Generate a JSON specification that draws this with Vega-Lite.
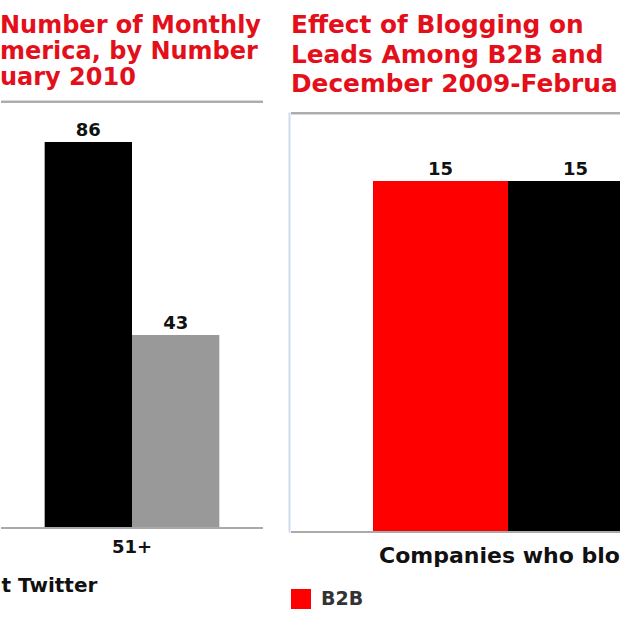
{
  "$schema": "https://vega.github.io/schema/vega-lite/v6.json",
  "background": "white",
  "padding": {"left": 0, "top": 13, "right": 0, "bottom": 0},
  "spacing": 25,
  "config": {"view": {"stroke": null}, "font": "DejaVu Sans"},
  "datasets": {
    "twitter": [
      {"followers": "51+", "series": "With Twitter", "leads": 86},
      {"followers": "51+", "series": "Without Twitter", "leads": 43}
    ],
    "blogging": [
      {"category": "Companies who blog", "segment": "B2B", "leads": 15},
      {"category": "Companies who blog", "segment": "B2C", "leads": 15}
    ]
  },
  "resolve": {
    "scale": {"color": "independent", "x": "independent", "y": "independent", "xOffset": "independent"},
    "legend": {"color": "independent"}
  },
  "hconcat": [
    {
      "width": 262,
      "height": 416,
      "title": {
        "text": ["Number of Monthly", "merica, by Number", "uary 2010"],
        "anchor": "start",
        "font": "DejaVu Sans",
        "fontWeight": "bold",
        "fontSize": 24,
        "lineHeight": 26,
        "color": "#e3101b",
        "offset": 11
      },
      "data": {"name": "twitter"},
      "layer": [
        {
          "mark": {"type": "bar"},
          "encoding": {
            "x": {
              "field": "followers", "type": "nominal",
              "scale": {"paddingInner": 0, "paddingOuter": 0.25},
              "axis": {"title": "t Twitter", "titleAnchor": "start", "titleAlign": "left",
                       "titleFont": "DejaVu Sans", "titleFontWeight": "bold", "titleFontSize": 20,
                       "titleColor": "#111111", "titlePadding": 19,
                       "domain": false, "ticks": false, "labelAngle": 0,
                       "labelFont": "DejaVu Sans", "labelFontWeight": "bold", "labelFontSize": 18,
                       "labelColor": "#111111", "labelPadding": 10}
            },
            "xOffset": {"field": "series", "type": "nominal", "sort": ["With Twitter", "Without Twitter"]},
            "y": {"field": "leads", "type": "quantitative", "scale": {"domain": [0, 92.7], "nice": false}, "axis": null},
            "color": {
              "field": "series", "type": "nominal",
              "scale": {"domain": ["With Twitter", "Without Twitter"], "range": ["#000000", "#999999"]},
              "legend": null
            }
          }
        },
        {
          "mark": {"type": "text", "font": "DejaVu Sans", "fontWeight": "bold", "fontSize": 18, "dy": -6, "baseline": "alphabetic", "color": "#111111"},
          "encoding": {
            "x": {"field": "followers", "type": "nominal"},
            "xOffset": {"field": "series", "type": "nominal", "sort": ["With Twitter", "Without Twitter"]},
            "y": {"field": "leads", "type": "quantitative"},
            "text": {"field": "leads", "type": "quantitative"}
          }
        },
        {"mark": {"type": "rule", "color": "#aaaaaa", "strokeWidth": 2}, "encoding": {"y": {"datum": 95}}},
        {"mark": {"type": "rule", "color": "#aaaaaa", "strokeWidth": 2}, "encoding": {"y": {"datum": 0}}}
      ]
    },
    {
      "width": 330,
      "height": 420,
      "title": {
        "text": ["Effect of Blogging on", "Leads Among B2B and", "December 2009-Februa"],
        "anchor": "start",
        "font": "DejaVu Sans",
        "fontWeight": "bold",
        "fontSize": 24.8,
        "lineHeight": 29.5,
        "color": "#e3101b",
        "offset": 15,
        "dx": 2
      },
      "data": {"name": "blogging"},
      "layer": [
        {
          "mark": {"type": "bar", "clip": true},
          "encoding": {
            "x": {
              "field": "category", "type": "nominal",
              "scale": {"range": [0, 434], "paddingInner": 0, "paddingOuter": 0.3037},
              "axis": {"title": null, "domain": false, "ticks": false, "labelAngle": 0,
                       "labelAlign": "left", "labelOffset": -129, "labelExpr": "'Companies who blo'",
                       "labelLimit": 0,
                       "labelFont": "DejaVu Sans", "labelFontWeight": "bold", "labelFontSize": 22,
                       "labelColor": "#111111", "labelPadding": 13}
            },
            "xOffset": {"field": "segment", "type": "nominal", "sort": ["B2B", "B2C"]},
            "y": {
              "field": "leads", "type": "quantitative", "scale": {"domain": [0, 17.95], "nice": false},
              "axis": {"title": null, "labels": false, "ticks": false, "grid": false,
                       "domainColor": "#cddcee", "domainWidth": 2, "offset": 2}
            },
            "color": {
              "field": "segment", "type": "nominal",
              "scale": {"domain": ["B2B", "B2C"], "range": ["#ff0000", "#000000"]},
              "legend": {
                "orient": "none", "legendX": 0, "legendY": 477,
                "values": ["B2B"], "title": null,
                "symbolType": "square", "symbolSize": 400, "symbolStrokeWidth": 0,
                "labelOffset": 10, "padding": 0,
                "labelFont": "DejaVu Sans", "labelFontWeight": "bold", "labelFontSize": 19, "labelColor": "#333333"
              }
            }
          }
        },
        {
          "mark": {"type": "text", "font": "DejaVu Sans", "fontWeight": "bold", "fontSize": 18, "dy": -6, "baseline": "alphabetic", "color": "#111111"},
          "encoding": {
            "x": {"field": "category", "type": "nominal"},
            "xOffset": {"field": "segment", "type": "nominal", "sort": ["B2B", "B2C"]},
            "y": {"field": "leads", "type": "quantitative"},
            "text": {"field": "leads", "type": "quantitative"}
          }
        },
        {"mark": {"type": "rule", "color": "#aaaaaa", "strokeWidth": 2}, "encoding": {"y": {"datum": 17.9}}},
        {"mark": {"type": "rule", "color": "#aaaaaa", "strokeWidth": 2}, "encoding": {"y": {"datum": 0}}}
      ]
    }
  ]
}
